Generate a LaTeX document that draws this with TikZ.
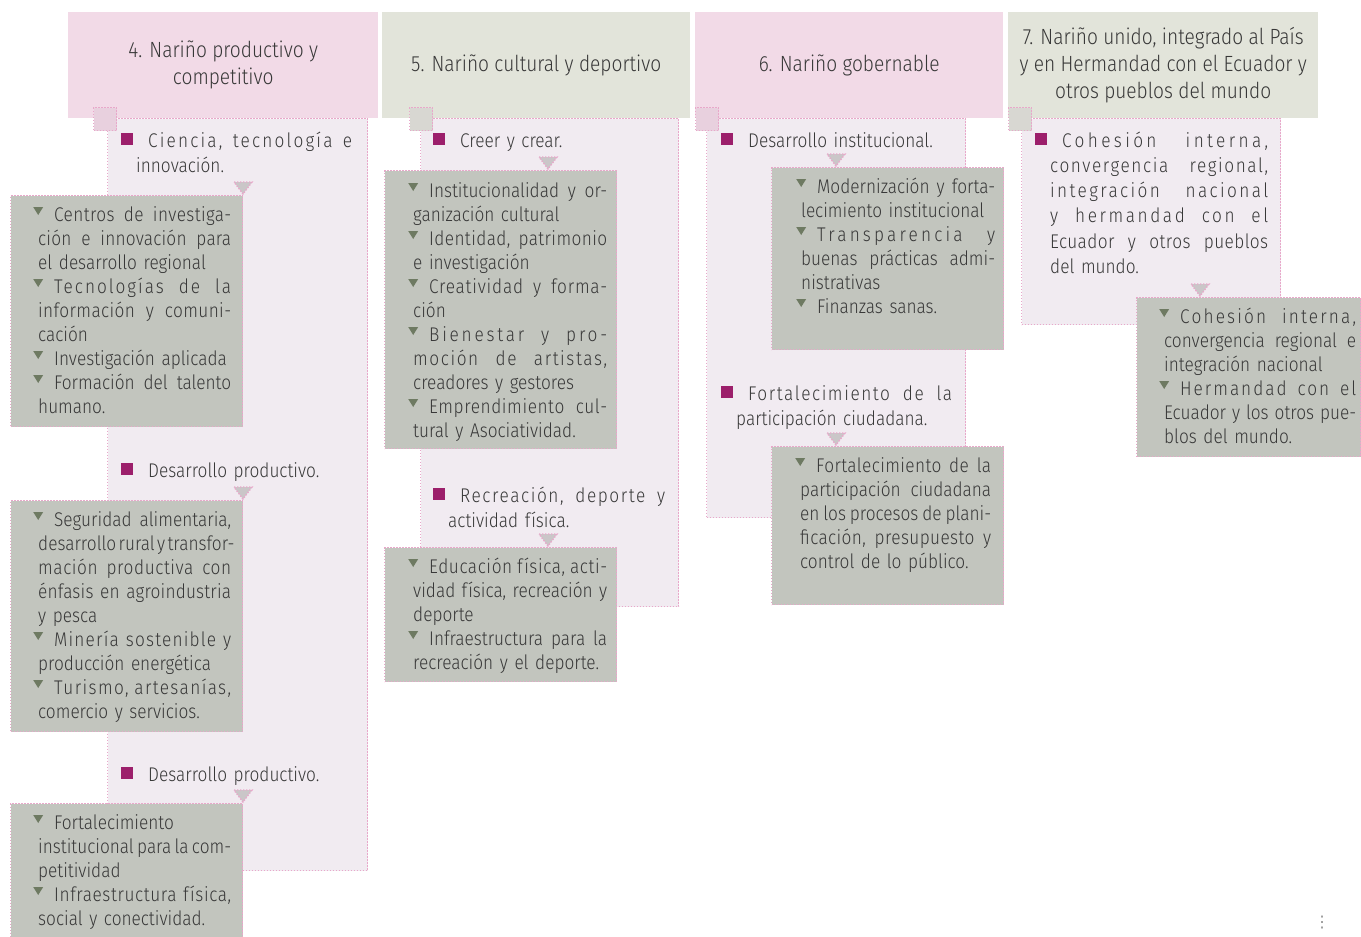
\documentclass[tikz,border=0pt]{standalone}
\usepackage{fontspec}
\setmainfont{Fira Sans Light}[FakeStretch=0.87]
\newfontfamily\symf{DejaVu Sans}
\usetikzlibrary{calc}
\definecolor{hpink}{HTML}{F2DAE7}
\definecolor{hgray}{HTML}{E2E4DA}
\definecolor{panelc}{HTML}{F1EBF1}
\definecolor{grayc}{HTML}{C2C5BE}
\definecolor{dotc}{HTML}{E8A8CA}
\definecolor{magc}{HTML}{9C1F6B}
\definecolor{tric}{HTML}{6E7A62}
\definecolor{txtc}{HTML}{383838}
\definecolor{sqpink}{HTML}{E8D0DE}
\definecolor{sqgray}{HTML}{D8D7D2}
\definecolor{conc}{HTML}{CAC6C8}
\newdimen\lw
\newcommand{\wg}{\hskip 0.21em plus 1fil minus 0.09em\relax}
\def\JLsplit#1 #2\JLend{#1\if\relax\detokenize{#2}\relax\else\wg\JLsplit#2\JLend\fi}
\newcommand{\JL}[2][0]{\hbox to \lw{\addfontfeature{LetterSpace=#1}\JLsplit#2 \JLend}\par}
\newcommand{\RL}[1]{\hbox to \lw{#1\hfil}\par}
\newcommand{\SQ}{\hspace*{-15pt}\textcolor{magc}{\rule[2pt]{12pt}{12pt}}\hspace{15pt}}
\newcommand{\TB}{\hspace*{-5pt}\raisebox{6pt}{\tikz\fill[tric] (0pt,8pt)--(10pt,8pt)--(5pt,0pt)--cycle;}\hspace{11pt}}
\newcommand{\conn}[1]{\draw[connector] (#1) ++(-9,-12) -- ++(18,0) -- (#1) -- cycle;}
\tikzset{
 dotb/.style={draw=dotc, line width=1.4pt, dash pattern=on 1.4pt off 1.6pt},
 hdr/.style={anchor=north west, inner sep=0pt, align=center, text=txtc, font=\fontsize{22}{27}\selectfont, minimum height=106pt},
 panel/.style={dotb, fill=panelc, anchor=north west, inner sep=0pt},
 gbox/.style={dotb, fill=grayc, anchor=north west, inner sep=0pt},
 sqc/.style={dotb, anchor=north west, inner sep=0pt, minimum width=23pt, minimum height=23pt},
 wid/.style={text width=#1pt, execute at begin node={\lw=#1pt\relax}},
 ptext/.style={anchor=base west, inner sep=0pt, text=txtc, font=\fontsize{19.8}{25.5}\selectfont},
 gtext/.style={anchor=base west, inner sep=0pt, text=txtc, font=\fontsize{19.8}{24}\selectfont},
 connector/.style={dotb, fill=conc},
}
\begin{document}
\begin{tikzpicture}[x=1pt,y=-1pt]
\useasboundingbox (0,0) rectangle (1361,937);
\clip (0,0) rectangle (1361,937);
% panels
\node[panel, minimum width=260pt, minimum height=752pt] (p4) at (107,118) {};
\node[panel, minimum width=258pt, minimum height=488pt] (p5) at (420,118) {};
\node[panel, minimum width=259pt, minimum height=399pt] (p6) at (706,118) {};
\node[panel, minimum width=259pt, minimum height=206pt] (p7) at (1021,118) {};
% headers
\node[hdr, fill=hpink, minimum width=310pt] (h4) at (68,12) {4. Nariño productivo y\\competitivo};
\node[hdr, fill=hgray, minimum width=308pt] (h5) at (382,12) {5. Nariño cultural y deportivo};
\node[hdr, fill=hpink, minimum width=308pt] (h6) at (695,12) {6. Nariño gobernable};
\node[hdr, fill=hgray, minimum width=310pt] (h7) at (1008,12) {7. Nariño unido, integrado al País\\y en Hermandad con el Ecuador y\\otros pueblos del mundo};
% gray boxes
\node[gbox, minimum width=232pt, minimum height=231pt] (g4a) at (10,195) {};
\node[gbox, minimum width=232pt, minimum height=231pt] (g4b) at (10,500) {};
\node[gbox, minimum width=232pt, minimum height=160pt] (g4c) at (10,803) {};
\node[gbox, minimum width=232pt, minimum height=278pt] (g5a) at (384,170) {};
\node[gbox, minimum width=232pt, minimum height=134pt] (g5b) at (384,547) {};
\node[gbox, minimum width=232pt, minimum height=182pt] (g6a) at (771,167) {};
\node[gbox, minimum width=232pt, minimum height=158pt] (g6b) at (771,446) {};
\node[gbox, minimum width=224pt, minimum height=159pt] (g7) at (1136,297) {};
% corner squares
\node[sqc, fill=sqpink] (s4) at (93,107) {};
\node[sqc, fill=sqgray] (s5) at (409,107) {};
\node[sqc, fill=sqpink] (s6) at (695,107) {};
\node[sqc, fill=sqgray] (s7) at (1008,107) {};
% connectors
\coordinate (t4a) at (243,194);
\coordinate (t4b) at (243,499);
\coordinate (t4c) at (243,802);
\coordinate (t5a) at (548,169);
\coordinate (t5b) at (548,546);
\coordinate (t6a) at (836,166);
\coordinate (t6b) at (836,445);
\coordinate (t7) at (1200,296);
\conn{t4a}\conn{t4b}\conn{t4c}\conn{t5a}\conn{t5b}\conn{t6a}\conn{t6b}\conn{t7}
% column 4 texts
\node[ptext, wid=216] (x4a) at (136,147) {\JL[11]{\SQ Ciencia, tecnología e}\RL{innovación.}};
\node[gtext, wid=193] (y4a) at (38,221) {%
\JL[2]{\TB Centros de investiga-}
\JL[1]{ción e innovación para}
\RL{el desarrollo regional}
\JL[10]{\TB Tecnologías de la}
\JL[2]{información y comuni-}
\RL{cación}
\RL{\TB Investigación aplicada}
\JL{\TB Formación del talento}
\RL{humano.}};
\node[ptext, wid=216] (x4b) at (136,477) {\RL{\SQ Desarrollo productivo.}};
\node[gtext, wid=193] (y4b) at (38,526) {%
\JL{\TB Seguridad alimentaria,}
\JL{desarrollo rural y transfor-}
\JL[3]{mación productiva con}
\JL[1]{énfasis en agroindustria}
\RL{y pesca}
\JL[6]{\TB Minería sostenible y}
\RL{producción energética}
\JL[7]{\TB Turismo, artesanías,}
\RL{comercio y servicios.}};
\node[ptext, wid=216] (x4c) at (136,781) {\RL{\SQ Desarrollo productivo.}};
\node[gtext, wid=193] (y4c) at (38,829) {%
\RL{\TB Fortalecimiento}
\JL{institucional para la com-}
\RL{petitividad}
\JL[3]{\TB Infraestructura física,}
\RL{social y conectividad.}};
% column 5 texts
\node[ptext, wid=217] (x5a) at (448,147) {\RL{\SQ Creer y crear.}};
\node[gtext, wid=194] (y5a) at (413,197) {%
\JL{\TB Institucionalidad y or-}
\RL{ganización cultural}
\JL[2]{\TB Identidad, patrimonio}
\RL{e investigación}
\JL[4]{\TB Creatividad y forma-}
\RL{ción}
\JL[14]{\TB Bienestar y pro-}
\JL[8]{moción de artistas,}
\RL{creadores y gestores}
\JL[3]{\TB Emprendimiento cul-}
\RL{tural y Asociatividad.}};
\node[ptext, wid=217] (x5b) at (448,502) {\JL[8]{\SQ Recreación, deporte y}\RL{actividad física.}};
\node[gtext, wid=194] (y5b) at (413,573) {%
\JL[3]{\TB Educación física, acti-}
\JL{vidad física, recreación y}
\RL{deporte}
\JL{\TB Infraestructura para la}
\RL{recreación y el deporte.}};
% column 6 texts
\node[ptext, wid=216] (x6a) at (736,147) {\RL{\SQ Desarrollo institucional.}};
\node[gtext, wid=194] (y6a) at (801,193) {%
\JL{\TB Modernización y forta-}
\RL{lecimiento institucional}
\JL[16]{\TB Transparencia y}
\JL{buenas prácticas admi-}
\RL{nistrativas}
\RL{\TB Finanzas sanas.}};
\node[ptext, wid=216] (x6b) at (736,400) {\JL[8]{\SQ Fortalecimiento de la}\RL{participación ciudadana.}};
\node[gtext, wid=191] (y6b) at (800,472) {%
\JL[2]{\TB Fortalecimiento de la}
\JL{participación ciudadana}
\JL{en los procesos de plani-}
\JL[2]{ficación, presupuesto y}
\RL{control de lo público.}};
% column 7 texts
\node[ptext, wid=218, font=\fontsize{19.8}{25.3}\selectfont] (x7a) at (1050,147) {%
\JL[17]{\SQ Cohesión interna,}
\JL[8]{convergencia regional,}
\JL[12]{integración nacional}
\JL[13]{y hermandad con el}
\JL[2]{Ecuador y otros pueblos}
\RL{del mundo.}};
\node[gtext, wid=192] (y7a) at (1164,323) {%
\JL[11]{\TB Cohesión interna,}
\JL{convergencia regional e}
\RL{integración nacional}
\JL[10]{\TB Hermandad con el}
\JL{Ecuador y los otros pue-}
\RL{blos del mundo.}};
% more marker
\node[text=black!45, font=\symf\fontsize{16}{16}\selectfont, inner sep=0pt] (more) at (1322,923) {⋮};
\end{tikzpicture}
\end{document}
